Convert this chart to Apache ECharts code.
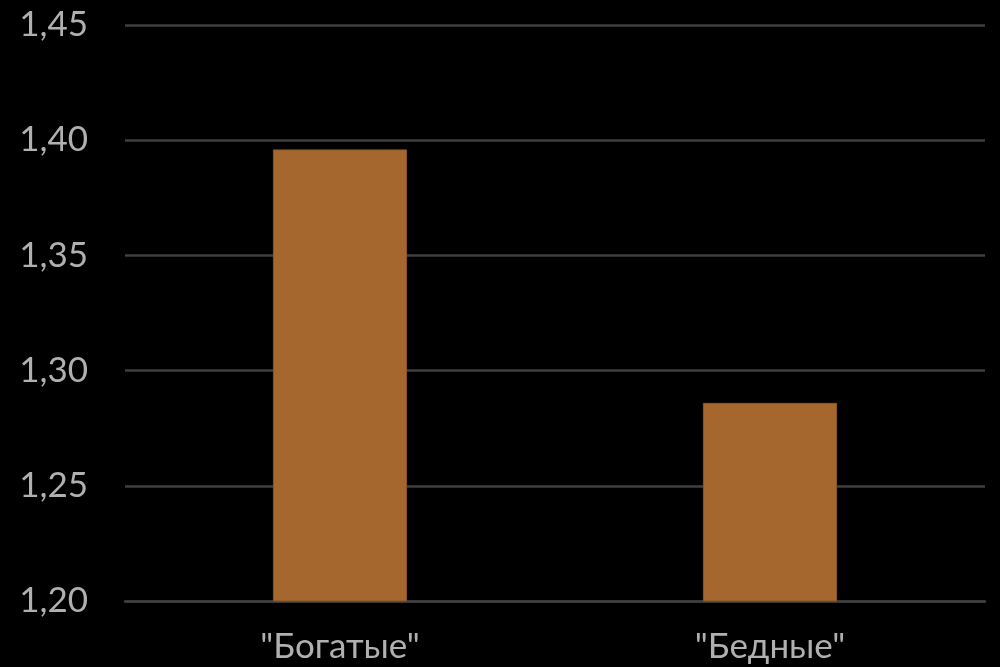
<!DOCTYPE html>
<html>
<head>
<meta charset="utf-8">
<script src="https://cdn.jsdelivr.net/npm/echarts@6/dist/echarts.min.js"></script>
<style>
  html, body { margin: 0; padding: 0; background: #000; }
  #chart { width: 1000px; height: 667px; }
</style>
</head>
<body>
<div id="chart"></div>
<script>
// Average ratio by group
const categories = ['"Богатые"', '"Бедные"'];
const values = [1.396, 1.286];
const yMin = 1.20;
const yMax = 1.45;
const yStep = 0.05;

const chart = echarts.init(document.getElementById('chart'), null, { renderer: 'canvas' });

chart.setOption({
  backgroundColor: '#000000',
  animation: false,
  grid: { left: 125, right: 15, top: 25, bottom: 66, containLabel: false },
  xAxis: {
    type: 'category',
    data: categories,
    axisLine: { show: true, lineStyle: { color: '#3f3f3f', width: 2.5 } },
    axisTick: { show: false },
    axisLabel: {
      color: '#b0b0b0',
      fontFamily: 'Lato, "Open Sans", sans-serif',
      fontSize: 35,
      margin: 28
    }
  },
  yAxis: {
    type: 'value',
    min: yMin,
    max: yMax,
    interval: yStep,
    axisLine: { show: false },
    axisTick: { show: false },
    splitLine: { lineStyle: { color: '#3f3f3f', width: 2.5 } },
    axisLabel: {
      color: '#b0b0b0',
      fontFamily: 'Lato, "Open Sans", sans-serif',
      fontSize: 35,
      margin: 37,
      formatter: v => v.toFixed(2).replace('.', ',')
    }
  },
  series: [{
    type: 'bar',
    data: values,
    barWidth: '31.2%',
    itemStyle: { color: '#a5672d', borderColor: '#8a5726', borderWidth: 1 }
  }]
});
</script>
</body>
</html>
